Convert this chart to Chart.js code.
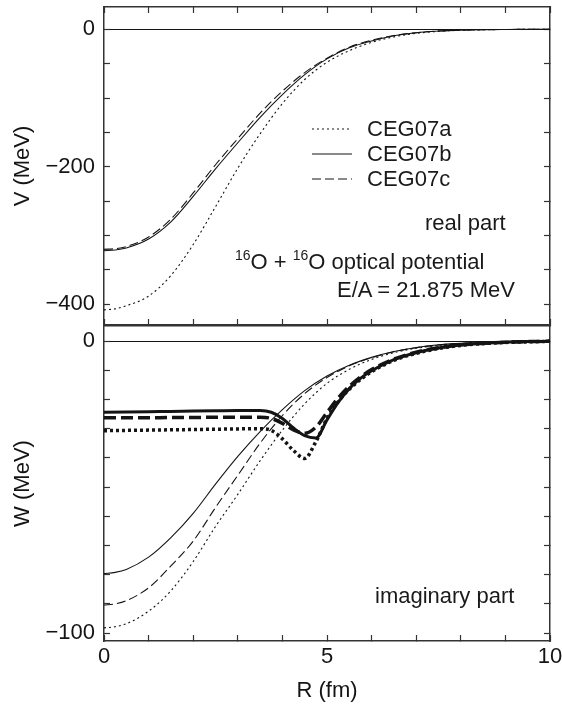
<!DOCTYPE html>
<html>
<head>
<meta charset="utf-8">
<title>16O + 16O optical potential</title>
<script src="https://cdn.jsdelivr.net/npm/chart.js@4.4.1/dist/chart.umd.min.js"></script>
<style>
  html, body { margin: 0; padding: 0; background: #fff; }
  #wrap { position: relative; width: 562px; height: 704px; overflow: hidden;
          font-family: "Liberation Sans", Arial, Helvetica, sans-serif; color: #1a1a1a; }
  canvas { position: absolute; left: 0; }
  #topChart { top: 0; }
  #botChart { top: 320px; }
  .note { position: absolute; font-size: 22px; line-height: 26px; white-space: nowrap; }
  .note sup { font-size: 14px; vertical-align: 9px; line-height: 0; }
  #legend { position: absolute; left: 312px; top: 116px; font-size: 22px; }
  #legend .row { height: 25px; display: flex; align-items: center; }
  #legend svg { margin-right: 15px; }
</style>
</head>
<body>
<div id="wrap">
  <canvas id="botChart" width="562" height="384"></canvas>
  <canvas id="topChart" width="562" height="332"></canvas>
  <div id="legend"></div>
  <div class="note" style="left:425px; top:210px">real part</div>
  <div class="note" style="left:235px; top:249px"><sup>16</sup>O + <sup>16</sup>O optical potential</div>
  <div class="note" style="left:337px; top:277px">E/A = 21.875 MeV</div>
  <div class="note" style="left:375px; top:583px">imaginary part</div>
</div>
<script>
// radius grid (fm) for the smooth potentials
const rGrid = [0, 0.25, 0.5, 1, 1.5, 2, 2.5, 3, 3.5, 4, 4.5, 5, 5.5, 6, 6.5, 7, 7.5, 8, 8.5, 9, 9.5, 10];

// real part V(R) in MeV
const realA = [-408, -406.5, -402, -388, -358, -313, -258, -202, -152, -108, -73, -48, -31, -19, -11, -6, -3, -1.5, -0.7, -0.3, -0.1, 0];
const realB = [-322, -321, -318, -305, -280, -243, -203, -165, -128, -95, -66, -43, -27, -17, -9.5, -5, -2.5, -1.2, -0.6, -0.3, -0.1, 0];
const realC = [-320, -319, -316, -302, -276, -238, -197, -159, -122, -90, -63, -42, -26, -16, -9, -5, -2.5, -1.2, -0.6, -0.3, -0.1, 0];

// imaginary part W(R), thin curves
const imagThinA = [-98.2, -97.8, -96.8, -92.5, -85.5, -75.5, -63.5, -52.5, -41, -30.5, -21.5, -14.5, -9.7, -6.3, -4, -2.5, -1.5, -0.9, -0.5, -0.3, -0.1, 0];
const imagThinB = [-79.6, -79.2, -78.2, -74, -67.3, -59, -49, -39.5, -31, -23.5, -17, -12, -8.3, -5.6, -3.6, -2.2, -1.3, -0.8, -0.4, -0.2, -0.1, 0];
const imagThinC = [-90.4, -90, -88.9, -84.5, -77, -68.5, -57, -46, -35, -25.5, -18, -12.5, -8.5, -5.7, -3.7, -2.3, -1.4, -0.8, -0.4, -0.2, -0.1, 0];

// finer grid around the surface dip for the heavy curves
const rDip = [0, 0.5, 1, 1.5, 2, 2.5, 3, 3.5, 3.75, 4, 4.25, 4.5, 4.75, 5, 5.25, 5.5, 5.75, 6, 6.5, 7, 7.5, 8, 8.5, 9, 9.5, 10];
const imagThickA = [-30.7, -30.6, -30.5, -30.4, -30.3, -30.2, -30.1, -30.0, -30.6, -33.5, -37.5, -40.2, -34.5, -26.5, -20.8, -16.5, -13.2, -10.5, -6.6, -4.2, -2.6, -1.5, -0.9, -0.5, -0.3, -0.1];
const imagThickB = [-24.4, -24.3, -24.2, -24.1, -24.0, -23.9, -23.8, -23.8, -24.4, -26.5, -29.8, -32.4, -33.2, -27, -21, -16.3, -12.8, -10.2, -6.4, -4.0, -2.4, -1.4, -0.8, -0.4, -0.2, -0.1];
const imagThickC = [-26.3, -26.3, -26.3, -26.2, -26.2, -26.1, -26.1, -26.1, -26.5, -28.2, -30.4, -31.6, -29.5, -24.5, -19.5, -15.5, -12.3, -9.8, -6.2, -3.8, -2.3, -1.3, -0.8, -0.4, -0.2, -0.1];

const labels = ["CEG07a", "CEG07b", "CEG07c"];
const vTickLabels = [0, -200, -400];
const wTickLabels = [0, -100];
const rTickLabels = [0, 5, 10];

const FONT = '"Liberation Sans", Arial, Helvetica, sans-serif';
const INK = "#141414";
const FRAME = "#333";

const dotted = { borderWidth: 1.1, borderDash: [2, 3] };
const solid = { borderWidth: 1.1, borderDash: [] };
const dashed = { borderWidth: 1.1, borderDash: [9, 4] };
const heavyDotted = { borderWidth: 3.5, borderDash: [3, 3] };
const heavySolid = { borderWidth: 3, borderDash: [] };
const heavyDashed = { borderWidth: 3.5, borderDash: [12, 5] };

function curve(label, rs, ys, style) {
    return {
        label,
        data: rs.map((r, i) => ({ x: r, y: ys[i] })),
        borderColor: INK,
        borderWidth: style.borderWidth,
        borderDash: style.borderDash,
        borderCapStyle: "butt",
        pointRadius: 0,
        fill: false,
        cubicInterpolationMode: "monotone"
    };
}

const minus = v => (v < 0 ? "\u2212" + Math.abs(v) : String(v));

// pin every box size so both panels share the same frame
function pin(w, h) {
    return s => {
        if (w !== null) s.width = w;
        if (h !== null) s.height = h;
        s.paddingLeft = s.paddingRight = s.paddingTop = s.paddingBottom = 0;
    };
}

function leftAxis(min, max, step, shown, title) {
    return {
        type: "linear", position: "left", min, max,
        ticks: {
            stepSize: step, includeBounds: false, padding: 15, color: INK,
            font: { family: FONT, size: 22 },
            callback: v => (shown.includes(v) ? minus(v) : "")
        },
        grid: {
            drawOnChartArea: true,
            color: c => (c.tick && c.tick.value === 0 ? INK : "rgba(0,0,0,0)"),
            lineWidth: 1, tickLength: -6, tickColor: FRAME, tickWidth: 1.2
        },
        border: { color: FRAME, width: 1.5 },
        title: { display: true, text: title, color: INK, font: { family: FONT, size: 22 }, padding: { top: 10 } },
        afterFit: pin(104, null)
    };
}

function rightAxis(min, max, step) {
    return {
        type: "linear", position: "right", min, max,
        ticks: { stepSize: step, includeBounds: false, display: false },
        grid: { drawOnChartArea: false, tickLength: -6, tickColor: FRAME, tickWidth: 1.2 },
        border: { color: FRAME, width: 1.5 },
        afterFit: pin(12, null)
    };
}

function rAxis(position, height, opts) {
    return Object.assign({
        type: "linear", position, min: 0, max: 10,
        ticks: { stepSize: 1, display: false },
        grid: { drawOnChartArea: false, tickLength: -6, tickColor: FRAME, tickWidth: 1.2 },
        border: { color: FRAME, width: 1.5 },
        afterFit: pin(null, height)
    }, opts || {});
}

const common = {
    responsive: false,
    animation: false,
    events: [],
    layout: { padding: 0 },
    plugins: { legend: { display: false }, tooltip: { enabled: false } }
};

const topChart = new Chart(document.getElementById("topChart"), {
    type: "line",
    data: {
        datasets: [
            curve(labels[0], rGrid, realA, dotted),
            curve(labels[1], rGrid, realB, solid),
            curve(labels[2], rGrid, realC, dashed)
        ]
    },
    options: Object.assign({}, common, {
        scales: {
            x: rAxis("bottom", 7),
            x2: rAxis("top", 7),
            y: leftAxis(-430, 32.4, 50, vTickLabels, "V (MeV)"),
            y2: rightAxis(-430, 32.4, 50)
        }
    })
});

new Chart(document.getElementById("botChart"), {
    type: "line",
    data: {
        datasets: [
            curve(labels[0], rGrid, imagThinA, dotted),
            curve(labels[1], rGrid, imagThinB, solid),
            curve(labels[2], rGrid, imagThinC, dashed),
            curve(labels[0], rDip, imagThickA, heavyDotted),
            curve(labels[2], rDip, imagThickC, heavyDashed),
            curve(labels[1], rDip, imagThickB, heavySolid)
        ]
    },
    options: Object.assign({}, common, {
        scales: {
            x: rAxis("bottom", 63, {
                ticks: {
                    stepSize: 1, padding: 9, color: INK, font: { family: FONT, size: 22 },
                    callback: v => (rTickLabels.includes(v) ? String(v) : "")
                },
                title: { display: true, text: "R (fm)", color: INK, font: { family: FONT, size: 22 }, padding: { top: 0, bottom: 0 } }
            }),
            x2: rAxis("top", 6, { grid: { display: false } }),
            y: leftAxis(-102.7, 5.14, 10, wTickLabels, "W (MeV)"),
            y2: rightAxis(-102.7, 5.14, 10)
        }
    })
});

// legend rows built from the real-part datasets
const legendEl = document.getElementById("legend");
const svgNS = "http://www.w3.org/2000/svg";
topChart.data.datasets.forEach(ds => {
    const row = document.createElement("div");
    row.className = "row";
    const svg = document.createElementNS(svgNS, "svg");
    svg.setAttribute("width", "40");
    svg.setAttribute("height", "4");
    const line = document.createElementNS(svgNS, "line");
    line.setAttribute("x1", "0");
    line.setAttribute("y1", "2");
    line.setAttribute("x2", "40");
    line.setAttribute("y2", "2");
    line.setAttribute("stroke", INK);
    line.setAttribute("stroke-width", String(ds.borderWidth));
    if (ds.borderDash.length) line.setAttribute("stroke-dasharray", ds.borderDash.join(" "));
    svg.appendChild(line);
    const text = document.createElement("span");
    text.textContent = ds.label;
    row.appendChild(svg);
    row.appendChild(text);
    legendEl.appendChild(row);
});
</script>
</body>
</html>
